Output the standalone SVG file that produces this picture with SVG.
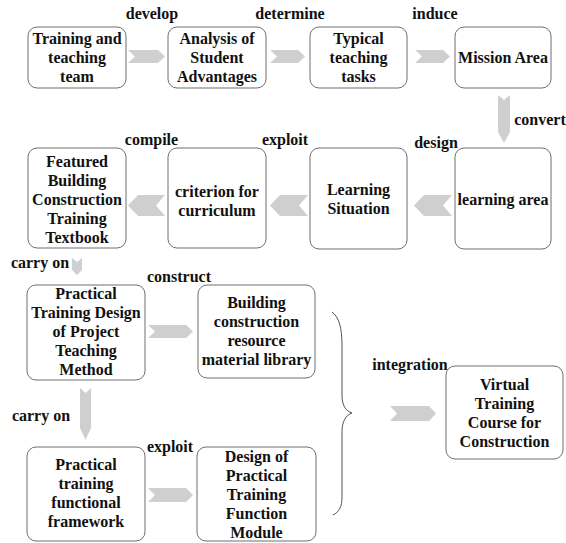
<svg xmlns="http://www.w3.org/2000/svg" width="566" height="543" viewBox="0 0 566 543">
<style>
.box{fill:#fff;stroke:#6e6e6e;stroke-width:1}
.t{font-family:"Liberation Serif","Times New Roman",serif;font-weight:bold;font-size:16px;fill:#111;text-anchor:middle}
.ar{fill:#cfcfcf;stroke:none}
.br{fill:none;stroke:#555;stroke-width:1}
</style>
<rect width="566" height="543" fill="#fff"/>
<g id="connectors">
  <polygon class="ar" points="128,50 158,50 165,56.5 158,63 128,63 135,56.5"/>
  <polygon class="ar" points="270,50 298,50 305,56.5 298,63 270,63 277,56.5"/>
  <polygon class="ar" points="415,50 443,50 450,56.5 443,63 415,63 422,56.5"/>
  <polygon class="ar" points="498,95 504,100 510,95 510,132 504,143 498,132"/>
  <polygon class="ar" points="128,205.5 138,195 165,195 156,205.5 165,216 138,216"/>
  <polygon class="ar" points="270,205.5 280,195 308,195 299,205.5 308,216 280,216"/>
  <polygon class="ar" points="414,205.5 424,195 452,195 443,205.5 452,216 424,216"/>
  <polygon class="ar" points="72,258 77,262 82,258 82,270 77,275 72,270"/>
  <polygon class="ar" points="148,325 186,325 193,331.5 186,338 148,338 155,331.5"/>
  <polygon class="ar" points="80,388 85.5,393 91,388 91,428 85.5,440 80,428"/>
  <polygon class="ar" points="148,488 186,488 193,495 186,502 148,502 155,495"/>
  <polygon class="ar" points="390,406 429,406 436,413.5 429,421 390,421 397,413.5"/>
  <path class="br" d="M332,312 C339,317 342,328 342,345 L342,395 C342,406 346,411 352,413 C346,415 342,421 342,432 L342,497 C342,507 339,512 333,515"/>
  <text class="t" x="152" y="19">develop</text>
  <text class="t" x="290" y="19">determine</text>
  <text class="t" x="435" y="19">induce</text>
  <text class="t" x="540" y="125">convert</text>
  <text class="t" x="151.5" y="145">compile</text>
  <text class="t" x="285" y="145">exploit</text>
  <text class="t" x="436" y="148">design</text>
  <text class="t" x="40" y="268">carry on</text>
  <text class="t" x="179" y="282">construct</text>
  <text class="t" x="41" y="421">carry on</text>
  <text class="t" x="170" y="452">exploit</text>
  <text class="t" x="410" y="370">integration</text>
</g>
<g id="n1"><rect class="box" x="28" y="27" width="98" height="61" rx="9"/>
  <text class="t" x="77" y="43.5">Training and</text><text class="t" x="77" y="62.5">teaching</text><text class="t" x="77" y="81.5">team</text></g>
<g id="n2"><rect class="box" x="168" y="27" width="98" height="61" rx="9"/>
  <text class="t" x="217" y="43.5">Analysis of</text><text class="t" x="217" y="62.5">Student</text><text class="t" x="217" y="81.5">Advantages</text></g>
<g id="n3"><rect class="box" x="310" y="27" width="97" height="61" rx="9"/>
  <text class="t" x="358.5" y="43.5">Typical</text><text class="t" x="358.5" y="62.5">teaching</text><text class="t" x="358.5" y="81.5">tasks</text></g>
<g id="n4"><rect class="box" x="455" y="27" width="96" height="61" rx="9"/>
  <text class="t" x="503" y="63">Mission Area</text></g>
<g id="n5"><rect class="box" x="28" y="148" width="98" height="100" rx="9"/>
  <text class="t" x="77" y="166.5">Featured</text><text class="t" x="77" y="185.5">Building</text><text class="t" x="77" y="204.5">Construction</text><text class="t" x="77" y="223.5">Training</text><text class="t" x="77" y="242.5">Textbook</text></g>
<g id="n6"><rect class="box" x="168" y="148" width="98" height="100" rx="9"/>
  <text class="t" x="217" y="197">criterion for</text><text class="t" x="217" y="216">curriculum</text></g>
<g id="n7"><rect class="box" x="310" y="148" width="97" height="101" rx="9"/>
  <text class="t" x="358.5" y="195">Learning</text><text class="t" x="358.5" y="214">Situation</text></g>
<g id="n8"><rect class="box" x="455" y="148" width="96" height="101" rx="9"/>
  <text class="t" x="503" y="204.5">learning area</text></g>
<g id="n9"><rect class="box" x="27" y="285" width="118" height="95" rx="9"/>
  <text class="t" x="86" y="298.5">Practical</text><text class="t" x="86" y="317.5">Training Design</text><text class="t" x="86" y="336.5">of Project</text><text class="t" x="86" y="355.5">Teaching</text><text class="t" x="86" y="374.5">Method</text></g>
<g id="n10"><rect class="box" x="198" y="285" width="117" height="93" rx="9"/>
  <text class="t" x="256.5" y="308">Building</text><text class="t" x="256.5" y="327">construction</text><text class="t" x="256.5" y="346">resource</text><text class="t" x="256.5" y="365">material library</text></g>
<g id="n11"><rect class="box" x="27" y="447" width="118" height="94" rx="9"/>
  <text class="t" x="86" y="470">Practical</text><text class="t" x="86" y="489">training</text><text class="t" x="86" y="508">functional</text><text class="t" x="86" y="527">framework</text></g>
<g id="n12"><rect class="box" x="197" y="447" width="119" height="94" rx="9"/>
  <text class="t" x="256.5" y="461.5">Design of</text><text class="t" x="256.5" y="480.5">Practical</text><text class="t" x="256.5" y="499.5">Training</text><text class="t" x="256.5" y="518.5">Function</text><text class="t" x="256.5" y="537.5">Module</text></g>
<g id="n13"><rect class="box" x="446" y="366" width="117" height="93" rx="9"/>
  <text class="t" x="504.5" y="390">Virtual</text><text class="t" x="504.5" y="409">Training</text><text class="t" x="504.5" y="428">Course for</text><text class="t" x="504.5" y="447">Construction</text></g>
</svg>
